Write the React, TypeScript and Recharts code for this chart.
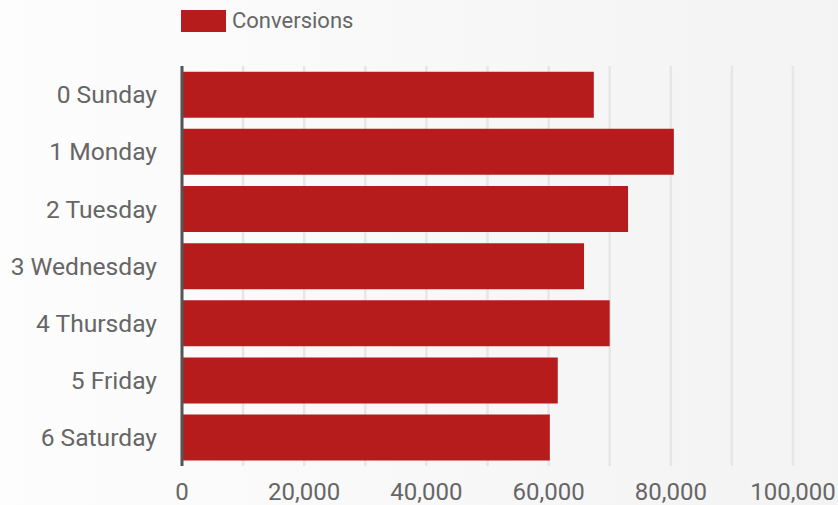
import React from 'react';
import { BarChart, Bar, XAxis, YAxis, CartesianGrid } from 'recharts';

const days = ['0 Sunday', '1 Monday', '2 Tuesday', '3 Wednesday', '4 Thursday', '5 Friday', '6 Saturday'];
const conversions = [67400, 80500, 73000, 65800, 70000, 61500, 60200];
const gridTicks = [0, 10000, 20000, 30000, 40000, 50000, 60000, 70000, 80000, 90000, 100000];
const labelledTicks = [0, 20000, 40000, 60000, 80000, 100000];

const data = days.map((name, i) => ({ name, conversions: conversions[i] }));

const RED = '#b71c1c';
const TEXT = '#666666';

const formatTick = (v: number) => (labelledTicks.includes(v) ? v.toLocaleString('en-US') : '');

const App: React.FC = () => {
  return (
    <div
      style={{
        position: 'absolute',
        left: 0,
        top: 0,
        width: 838,
        height: 505,
        background: 'linear-gradient(to right, #fdfdfd, #f3f3f3)',
        fontFamily: 'Roboto, sans-serif',
      }}
    >
      {/* legend */}
      <div style={{ position: 'absolute', left: 181, top: 10, display: 'flex', alignItems: 'center' }}>
        <div style={{ width: 45, height: 22, background: RED }} />
        <span style={{ marginLeft: 6, fontSize: 22, color: TEXT, lineHeight: '22px' }}>Conversions</span>
      </div>
      <BarChart
        width={838}
        height={505}
        data={data}
        layout="vertical"
        margin={{ top: 66, right: 45, bottom: 0, left: 0 }}
        barCategoryGap="10%"
      >
        <CartesianGrid horizontal={false} stroke="#e6e6e6" strokeWidth={2.5} />
        <XAxis
          type="number"
          domain={[0, 100000]}
          ticks={gridTicks}
          interval={0}
          tickFormatter={formatTick}
          axisLine={false}
          tickLine={false}
          tickSize={0}
          tickMargin={17}
          height={39}
          tick={{ fill: TEXT, fontSize: 24 }}
        />
        <YAxis
          type="category"
          dataKey="name"
          width={182}
          axisLine={{ stroke: '#555555', strokeWidth: 3 }}
          tickLine={false}
          tickSize={0}
          tickMargin={25}
          tick={{ fill: TEXT, fontSize: 24.6 }}
        />
        <Bar dataKey="conversions" fill={RED} isAnimationActive={false} />
      </BarChart>
    </div>
  );
};

export default App;
